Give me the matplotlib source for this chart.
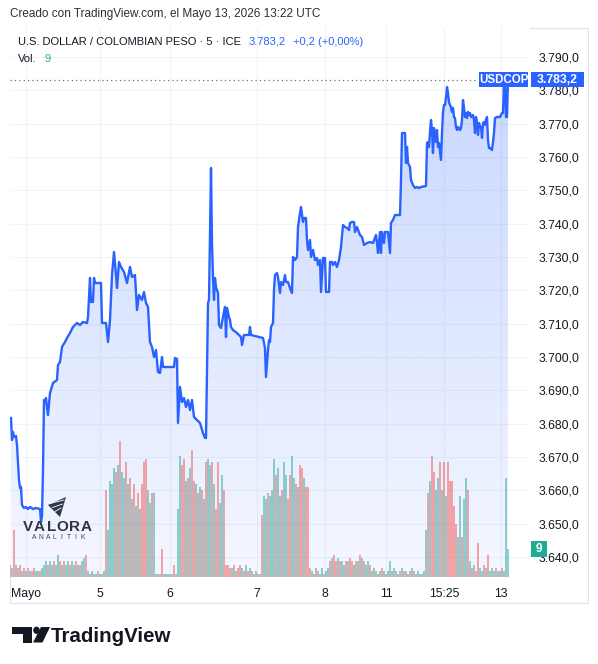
import numpy as np
import matplotlib
matplotlib.use("Agg")
import matplotlib.pyplot as plt
import matplotlib.transforms as mtransforms
from matplotlib.patches import Rectangle, Polygon, Circle

plt.rcParams['font.family'] = ['Liberation Sans', 'DejaVu Sans']

# ---------------- data ----------------
# bar position (5-min bar index scale) and USD/COP close
line_x = [11, 12, 13, 14, 16, 17, 19, 20, 21, 22, 24, 26, 28, 30, 33, 36, 40, 41, 42, 43,
          44, 45, 46, 47, 48, 50, 53, 57, 58, 60, 62, 65, 67, 70, 73, 77, 80, 83, 87, 88,
          90, 91, 93, 94, 95, 101, 102, 106, 108, 110, 112, 114, 116, 117, 119, 121, 124, 127, 130, 132,
          135, 137, 139, 142, 144, 146, 148, 150, 152, 154, 156, 158, 160, 162, 163, 174, 175, 177, 178, 180,
          182, 184, 186, 188, 190, 192, 194, 197, 200, 203, 205, 206, 208, 209, 211, 212, 213, 214, 215, 216,
          218, 219, 221, 223, 225, 226, 227, 229, 230, 231, 233, 237, 241, 242, 244, 249, 250, 251, 263, 265,
          266, 268, 269, 270, 271, 273, 274, 275, 277, 278, 280, 281, 283, 285, 286, 288, 290, 292, 293, 295,
          297, 298, 300, 301, 303, 304, 306, 307, 308, 310, 311, 313, 315, 317, 318, 320, 321, 323, 325, 326,
          329, 330, 332, 333, 335, 337, 339, 341, 343, 345, 347, 349, 350, 352, 354, 355, 357, 360, 362, 364,
          367, 370, 373, 376, 377, 378, 380, 381, 382, 384, 385, 388, 390, 391, 393, 395, 400, 401, 402, 405,
          406, 407, 408, 410, 411, 413, 415, 417, 419, 421, 426, 427, 428, 429, 430, 431, 432, 433, 434, 435,
          436, 437, 438, 439, 441, 442, 443, 444, 445, 446, 447, 448, 449, 450, 451, 452, 453, 454, 455, 456,
          457, 458, 460, 461, 462, 463, 464, 465, 466, 467, 468, 469, 470, 471, 473, 474, 475, 476, 477, 478,
          479, 480, 481, 482, 483, 484, 485, 486, 487, 488, 489, 490, 492, 493, 494, 495, 497, 500, 502, 503,
          504, 505, 506, 507, 508]
line_price = [3681.7, 3675.1, 3677.5, 3676.0, 3676.3, 3673.6, 3663.1, 3660.7, 3661.0, 3655.6, 3654.7, 3655.0, 3654.4, 3655.0, 3654.4, 3654.7, 3654.4, 3650.5, 3652.3, 3666.1,
              3687.1, 3686.5, 3687.7, 3684.7, 3682.6, 3689.2, 3692.2, 3693.1, 3697.6, 3698.5, 3703.0, 3704.5, 3705.7, 3707.2, 3709.0, 3710.2, 3709.6, 3710.5, 3710.2, 3712.0,
              3723.7, 3716.5, 3716.5, 3723.7, 3722.2, 3722.2, 3710.2, 3710.2, 3704.5, 3711.1, 3724.6, 3731.5, 3724.6, 3720.7, 3728.5, 3727.0, 3725.5, 3722.2, 3727.0, 3724.0,
              3724.6, 3714.1, 3718.6, 3717.1, 3719.5, 3716.2, 3715.0, 3704.5, 3703.0, 3700.0, 3702.1, 3695.5, 3695.2, 3700.0, 3697.0, 3697.0, 3699.7, 3699.4, 3680.2, 3691.0,
              3686.5, 3687.7, 3685.0, 3687.1, 3684.1, 3687.1, 3682.0, 3681.1, 3680.2, 3677.2, 3675.7, 3675.7, 3716.2, 3717.1, 3756.7, 3734.2, 3724.0, 3717.1, 3723.7, 3721.0,
              3719.2, 3709.6, 3708.7, 3712.0, 3715.0, 3706.0, 3714.7, 3712.0, 3711.1, 3709.0, 3708.1, 3707.2, 3706.0, 3703.6, 3706.6, 3706.6, 3709.0, 3706.6, 3705.7, 3702.7,
              3694.0, 3702.1, 3705.1, 3704.5, 3709.0, 3710.2, 3720.1, 3724.6, 3725.2, 3724.0, 3719.2, 3722.5, 3721.6, 3724.6, 3722.5, 3722.5, 3720.7, 3719.2, 3730.0, 3729.1,
              3730.0, 3739.0, 3743.2, 3745.0, 3740.5, 3741.7, 3741.7, 3735.1, 3732.1, 3735.1, 3730.0, 3732.1, 3729.1, 3729.7, 3727.6, 3729.1, 3719.5, 3729.7, 3729.7, 3719.5,
              3719.5, 3728.5, 3728.5, 3727.6, 3728.5, 3727.0, 3729.1, 3733.0, 3739.6, 3739.0, 3738.7, 3738.1, 3740.2, 3740.5, 3740.5, 3737.5, 3739.0, 3736.6, 3736.0, 3733.6,
              3734.2, 3734.5, 3734.2, 3736.6, 3734.2, 3731.2, 3737.5, 3731.2, 3737.5, 3734.2, 3737.5, 3737.5, 3731.2, 3740.2, 3741.1, 3742.6, 3742.6, 3753.1, 3767.2, 3767.2,
              3758.2, 3763.0, 3758.2, 3757.0, 3753.1, 3751.6, 3750.7, 3751.0, 3750.7, 3751.0, 3751.3, 3764.2, 3764.5, 3763.0, 3767.5, 3771.1, 3768.1, 3761.2, 3768.7, 3766.0,
              3764.5, 3768.1, 3763.0, 3764.2, 3759.1, 3767.2, 3773.5, 3775.6, 3775.6, 3777.7, 3781.0, 3779.2, 3776.5, 3775.6, 3775.0, 3773.5, 3774.7, 3772.0, 3771.7, 3769.0,
              3768.1, 3769.0, 3768.1, 3768.7, 3771.1, 3777.1, 3774.7, 3772.0, 3773.2, 3771.7, 3773.5, 3772.6, 3773.2, 3772.0, 3772.6, 3771.1, 3767.2, 3772.0, 3770.5, 3766.6,
              3770.2, 3769.0, 3769.0, 3765.7, 3770.2, 3770.5, 3769.6, 3771.1, 3772.0, 3765.1, 3762.7, 3762.7, 3762.1, 3764.5, 3767.2, 3771.7, 3772.0, 3772.0, 3773.2, 3773.2,
              3783.0, 3783.5, 3772.0, 3772.0, 3783.2]

# volume (one value per 2 bar positions), grouped by stretch
vol_s1 = [4, 3, 15, 4, 3, 4, 2, 3, 2, 3, 2, 2, 3, 2, 2, 2, 3]
vol_s2 = [4, 5, 4, 5, 4, 5, 4, 7, 5, 4, 5, 4, 5, 4, 5, 4, 5, 4, 4, 5, 6, 7]
vol_s3 = [2, 1, 2, 1, 1, 2, 1, 1, 2]
vol_s4 = [28, 15, 31, 30, 35, 34, 36, 44, 34, 32, 37, 30, 32, 25, 30, 23, 27, 22, 30, 37, 38, 28, 24, 27, 27]
vol_s5 = [1, 1, 1, 9, 1, 1, 1, 1, 1, 4, 1]
vol_s6 = [22, 39, 36, 38, 31, 32, 35, 41, 31, 30, 27, 29, 28, 25, 37, 38, 36, 37, 30, 22, 37, 24, 33, 28]
vol_s7 = [4, 4, 3, 3, 4, 2, 3, 4, 3, 2, 4, 2, 3, 2, 1, 2, 1, 1]
vol_s8 = [20, 26, 25, 27, 26, 28, 38, 33, 35, 26, 28, 37, 33, 25, 33, 39, 32, 30, 29, 36, 35, 32, 29, 29]
vol_s9 = [3, 2, 1, 3, 2, 1, 3, 1, 2, 3]
vol_s10 = [5, 6, 7, 5, 6, 5, 5, 4, 5, 5, 6, 5, 4, 5, 5, 7, 6, 5, 4, 5, 4]
vol_s11 = [2, 3, 2, 1, 2, 3, 2, 1, 2, 5, 2, 3, 2, 1, 2, 3, 2, 2, 1, 2, 3, 2, 1, 2, 1, 1, 2]
vol_s12 = [15, 27, 31, 39, 34, 28, 32, 37, 28, 37, 26, 37, 31, 31, 23, 17, 13, 26, 13, 25, 32, 28]
vol_s13 = [5, 3, 4, 2, 11, 3, 2, 4, 3, 7, 2, 3, 2, 3, 2, 2, 3, 2]
vol_s14 = [32, 9]
dir_s = ("grrgrrgrgrgrrggrg" "ggrggrggrgrggrggrgrggr" "grgggrggg" "rggggrgrggrgrgrgrgrrrggrg"
         "ggrrggggrrg" "ggrrgrgrrgrgrgrggrgrrggr" "rrrgrgrrgrgrgrggrg" "rggrgggrggrggrrggrgrrgrr"
         "rgrgrggrgg" "rgrrgrggrgrrgrgrgrggr" "ggrggrgrggrgggrgrggrgrgggrg" "grgrrggrgrgrrrrrggrggr"
         "grgrrggrgrgggrggrg" "gg")

x_tick_pos = [26, 100, 170, 257, 325, 386, 444, 501]
x_tick_lab = ["Mayo", "5", "6", "7", "8", "11", "15:25", "13"]
price_ticks = [3640, 3650, 3660, 3670, 3680, 3690, 3700, 3710, 3720, 3730, 3740, 3750, 3760, 3770, 3780, 3790]

title_txt = "U.S. DOLLAR / COLOMBIAN PESO \u00b7 5 \u00b7 ICE"
last_txt = "3.783,2"
chg_txt = "+0,2 (+0,00%)"
created_txt = "Creado con TradingView.com, el Mayo 13, 2026 13:22 UTC"

# ---------------- figure ----------------
W, H = 598, 664
fig = plt.figure(figsize=(W / 100, H / 100), dpi=100)
fig.patch.set_facecolor('white')


def fx(p):
    return p / W


def fy(p):
    return 1 - p / H


def fmt(v):
    s = f"{v:,.1f}"
    return s.replace(',', 'X').replace('.', ',').replace('X', '.')


BLUE = '#2962FF'
TEAL = '#26a69a'
RED = '#ef5350'
TXT = '#131722'

PL, PR, PT, PB = 10, 530, 28, 577
rect = [fx(PL), fy(PB), (PR - PL) / W, (PB - PT) / H]
ax_bg = fig.add_axes(rect, zorder=1)
ax_vol = fig.add_axes(rect, zorder=2)
ax = fig.add_axes(rect, zorder=3)
for a in (ax_vol, ax):
    a.patch.set_visible(False)
for a in (ax_bg, ax_vol, ax):
    for s in a.spines.values():
        s.set_visible(False)

YMIN, YMAX = 3634.0, 3798.7
XMIN, XMAX = 10, 530

x = np.array(line_x, dtype=float)
y = np.array(line_price, dtype=float)

# gradient area fill
verts = [(x[0], YMIN)] + list(zip(x, y)) + [(x[-1], YMIN)]
poly = Polygon(verts, closed=True, facecolor='none', edgecolor='none', transform=ax_bg.transData)
ax_bg.add_patch(poly)
img = np.zeros((256, 1, 4))
img[..., 0] = 41 / 255
img[..., 1] = 98 / 255
img[..., 2] = 1.0
img[..., 3] = np.linspace(0.05, 0.25, 256)[:, None]
im = ax_bg.imshow(img, extent=[XMIN, XMAX, YMIN, y.max()], origin='lower', aspect='auto',
                  interpolation='bilinear', zorder=2)
im.set_clip_path(poly)

ax_bg.set_xlim(XMIN, XMAX)
ax_bg.set_ylim(YMIN, YMAX)
ax_bg.set_xticks(x_tick_pos)
ax_bg.set_yticks(price_ticks)
ax_bg.grid(True, color='#f0f3f8', lw=0.8, zorder=0)
ax_bg.set_axisbelow(True)
ax_bg.tick_params(left=False, bottom=False, labelleft=False, labelbottom=False)

# volume
vols = np.array(vol_s1 + vol_s2 + vol_s3 + vol_s4 + vol_s5 + vol_s6 + vol_s7 + vol_s8 + vol_s9
                + vol_s10 + vol_s11 + vol_s12 + vol_s13 + vol_s14, dtype=float)
vx = 10 + 2 * np.arange(len(vols))
vcol = [TEAL if c == 'g' else RED for c in dir_s[:len(vols)]]
ax_vol.bar(vx, vols, width=1.6, color=vcol, alpha=0.5, linewidth=0)
ax_vol.set_xlim(XMIN, XMAX)
ax_vol.set_ylim(0, 177)
ax_vol.set_xticks([])
ax_vol.set_yticks([])

# price line
ax.plot(x, y, color=BLUE, lw=1.7, solid_joinstyle='round', zorder=3)
last = y[-1]
ax.hlines(last, XMIN, 478, colors='#6a6d78', linestyles=(0, (1, 2.5)), lw=0.9, zorder=2)
ax.set_xlim(XMIN, XMAX)
ax.set_ylim(YMIN, YMAX)
ax.yaxis.tick_right()
ax.set_yticks(price_ticks)
ax.set_yticklabels([fmt(v) for v in price_ticks])
ax.set_xticks(x_tick_pos)
ax.set_xticklabels(x_tick_lab)
ax.tick_params(axis='y', length=0, pad=6, labelsize=8.8, labelcolor=TXT)
ax.tick_params(axis='x', length=0, pad=8, labelsize=8.8, labelcolor=TXT)

# panel border
fig.patches.append(Rectangle((fx(10), fy(603)), (588 - 10) / W, (603 - 28) / H, transform=fig.transFigure,
                             facecolor='none', edgecolor='#e0e3eb', lw=0.8, zorder=0))

# last price labels
bt = mtransforms.blended_transform_factory(fig.transFigure, ax.transData)
fig.patches.append(Rectangle((fx(479), last - 2.3), (528 - 479) / W, 4.6, transform=bt,
                             facecolor=BLUE, edgecolor='none', zorder=10))
fig.patches.append(Rectangle((fx(531), last - 2.3), (584 - 531) / W, 4.6, transform=bt,
                             facecolor=BLUE, edgecolor='none', zorder=10))
fig.text(fx(503.5), last, "USDCOP", transform=bt, ha='center', va='center', color='white',
         fontsize=8.3, weight='bold', zorder=11)
fig.text(fx(557.5), last, fmt(last), transform=bt, ha='center', va='center', color='white',
         fontsize=8.8, weight='bold', zorder=11)

# last volume label
bv = mtransforms.blended_transform_factory(fig.transFigure, ax_vol.transData)
lv = vols[-1]
fig.patches.append(Rectangle((fx(531), lv - 2.6), 16 / W, 5.2, transform=bv,
                             facecolor='#22ab94', edgecolor='none', zorder=10))
fig.text(fx(539), lv, f"{int(lv)}", transform=bv, ha='center', va='center', color='white',
         fontsize=8.5, weight='bold', zorder=11)

# header texts
fig.text(fx(10), fy(14), created_txt, fontsize=8.5, color='#2a2e39', va='center')
t_title = ax.annotate(title_txt, xy=(fx(18), fy(42)), xycoords='figure fraction', fontsize=8.0,
                      color=TXT, va='center', ha='left', annotation_clip=False)
t_last = ax.annotate(last_txt, xy=(1, 0.5), xycoords=t_title, xytext=(8, 0), textcoords='offset pixels',
                     fontsize=8.0, color=BLUE, va='center', ha='left', annotation_clip=False)
ax.annotate(chg_txt, xy=(1, 0.5), xycoords=t_last, xytext=(7, 0), textcoords='offset pixels',
            fontsize=8.0, color=BLUE, va='center', ha='left', annotation_clip=False)
t_vol = ax.annotate("Vol.", xy=(fx(18), fy(59)), xycoords='figure fraction', fontsize=8.0,
                    color=TXT, va='center', ha='left', annotation_clip=False)
ax.annotate(f"{int(lv)}", xy=(1, 0.5), xycoords=t_vol, xytext=(8, 0), textcoords='offset pixels',
            fontsize=8.0, color='#22ab94', va='center', ha='left', annotation_clip=False)

# Valora Analitik watermark
for i, ch in enumerate("VALORA"):
    fig.text(fx(28 + i * 11.6), fy(527), ch, fontsize=11, color='#2f3542', ha='center', va='center',
             weight='bold', zorder=12)
for i, ch in enumerate("ANALITIK"):
    fig.text(fx(34 + i * 6.9), fy(537.5), ch, fontsize=4.8, color='#3a3f4a', ha='center', va='center',
             zorder=12)
fig.patches.append(Polygon([(fx(66), fy(497)), (fx(48), fy(505)), (fx(60), fy(517))], closed=True,
                           transform=fig.transFigure, facecolor='#2c3a4f', edgecolor='none', zorder=12))
for k in range(3):
    yy = 502 + k * 4
    fig.lines.append(plt.Line2D([fx(50 + k * 2.5), fx(64 - k * 1.5)], [fy(yy + 1.5), fy(yy - 2)],
                                transform=fig.transFigure, color='white', lw=0.6, zorder=13))

# TradingView logo
LOGO = '#131722'
fig.patches.append(Polygon([(fx(12), fy(627)), (fx(32), fy(627)), (fx(32), fy(642.5)), (fx(23), fy(642.5)),
                            (fx(23), fy(633.5)), (fx(12), fy(633.5))], closed=True, transform=fig.transFigure,
                           facecolor=LOGO, edgecolor='none'))
fig.patches.append(Circle((fx(36.5), fy(630.3)), 3.3 / W, transform=fig.transFigure,
                          facecolor=LOGO, edgecolor='none'))
fig.patches.append(Polygon([(fx(41), fy(627)), (fx(50), fy(627)), (fx(42.5), fy(642.5)), (fx(33), fy(642.5))],
                           closed=True, transform=fig.transFigure, facecolor=LOGO, edgecolor='none'))
fig.text(fx(51), fy(641.5), "TradingView", fontsize=14.8, weight='bold', color=LOGO, va='baseline', ha='left')

fig.savefig("out.png", dpi=100, facecolor='white')
